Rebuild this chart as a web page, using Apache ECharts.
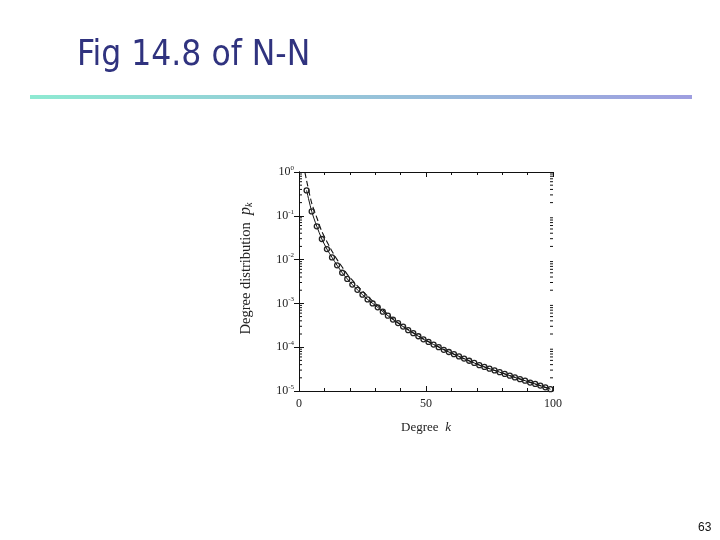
<!DOCTYPE html>
<html>
<head>
<meta charset="utf-8">
<script src="https://cdn.jsdelivr.net/npm/echarts@6/dist/echarts.min.js"></script>
<style>
html,body{margin:0;padding:0;background:#fff;}
#chart{width:720px;height:540px;}
</style>
</head>
<body>
<div id="chart"></div>
<script>
// ---- data ----
const kSim = [3,5,7,9,11,13,15,17,19,21,23,25,27,29,31,33,35,37,39,41,43,45,47,49,51,53,55,57,59,61,63,65,67,69,71,73,75,77,79,81,83,85,87,89,91,93,95,97,99];
const pSim = [0.380,0.126,0.0575,0.0295,0.0174,0.0112,0.00741,0.00501,0.00363,0.00269,0.00204,0.00158,0.00123,0.00100,
  0.000813,0.000646,0.000525,0.000427,0.000355,0.000295,0.000245,0.000209,0.000178,0.000151,0.000132,0.000115,0.000100,
  0.0000871,0.0000776,0.0000692,0.0000617,0.0000550,0.0000490,0.0000437,0.0000389,0.0000355,0.0000324,0.0000295,0.0000269,
  0.0000245,0.0000224,0.0000204,0.0000186,0.0000172,0.0000156,0.0000145,0.0000133,0.0000121,0.0000110];
const kDash = [2.3,3,5,7,9,11,13,15,17,19,21,23,25,27,29,31,33,35,37,39,45,50,60,70,80,90,100];
const pDash = [1.0,0.631,0.195,0.0912,0.0437,0.0257,0.0155,0.0100,0.00676,0.00462,0.00339,0.00251,0.00191,0.00148,0.00113,
  0.000902,0.000708,0.000560,0.000447,0.000361,0.000213,0.000144,0.0000735,0.0000412,0.0000257,0.0000166,0.0000105];
const xTickLabels = ['0','50','100'];

const simData = kSim.map((k,i)=>[k,pSim[i]]);
const dashData = kDash.map((k,i)=>[k,pDash[i]]);
// minor log tick positions (2..9 within each decade)
const minorLog = [];
for (let e = -5; e < 0; e++) for (let m = 2; m <= 9; m++) minorLog.push([0, m*Math.pow(10,e)]);

const serif = '"Liberation Serif","DejaVu Serif",serif';
const txt = '#222';

const chart = echarts.init(document.getElementById('chart'));
const axisLine = {show:true, lineStyle:{color:'#111', width:1}};
chart.setOption({
  animation:false,
  backgroundColor:'#fff',
  title:{
    text:'Fig 14.8 of N-N', left:72, top:33,
    textStyle:{fontFamily:'"DejaVu Sans Condensed","Liberation Sans Narrow",sans-serif', fontSize:35, fontWeight:'normal', color:'#30337f'}
  },
  graphic:[
    {type:'rect', left:30, top:95, shape:{width:662, height:4},
      style:{fill:new echarts.graphic.LinearGradient(0,0,1,0,[{offset:0,color:'#8eead2'},{offset:1,color:'#9e9ee0'}])}},
    {type:'text', left:698, top:522, style:{text:'63', fontSize:12, fontFamily:'"Liberation Sans",sans-serif', fill:'#111'}}
  ],
  grid:{left:299, top:172, width:254, height:219, show:false},
  xAxis:[{
    type:'value', min:0, max:100, interval:50, position:'bottom',
    axisLine:axisLine,
    axisTick:{show:true, inside:true, length:5, lineStyle:{color:'#111'}},
    minorTick:{show:true, splitNumber:5, length:3, lineStyle:{color:'#111'}},
    splitLine:{show:false},
    axisLabel:{fontFamily:serif, fontSize:12, color:txt, margin:7,
      formatter:v=>{const i=[0,50,100].indexOf(v); return i>=0?xTickLabels[i]:'';}},
    name:'{n|Degree  }{i|k}', nameLocation:'middle', nameGap:30,
    nameTextStyle:{rich:{n:{fontFamily:serif,fontSize:13,color:txt},i:{fontFamily:serif,fontSize:13,fontStyle:'italic',color:txt}}}
  },{
    type:'value', min:0, max:100, interval:50, position:'top',
    axisLine:axisLine,
    axisTick:{show:true, inside:true, length:5, lineStyle:{color:'#111'}},
    minorTick:{show:true, splitNumber:5, length:3, lineStyle:{color:'#111'}},
    splitLine:{show:false}, axisLabel:{show:false}
  }],
  yAxis:[{
    type:'log', logBase:10, min:1e-5, max:1, interval:1, position:'left',
    axisLine:axisLine,
    axisTick:{show:true, inside:true, length:5, lineStyle:{color:'#111'}},
    splitLine:{show:false},
    axisLabel:{margin:5, color:txt,
      formatter:v=>'{b|10}{s|'+Math.round(Math.log10(v))+'}',
      rich:{b:{fontFamily:serif,fontSize:12,color:txt},s:{fontFamily:serif,fontSize:7,color:txt,padding:[0,0,8,0]}}},
    name:'{n|Degree distribution  }{i|p}{k|k}', nameLocation:'middle', nameGap:45, nameRotate:90,
    nameTextStyle:{padding:[0,0,0,26], rich:{
      n:{fontFamily:serif,fontSize:14.5,color:txt},
      i:{fontFamily:serif,fontSize:16,fontStyle:'italic',color:txt},
      k:{fontFamily:serif,fontSize:10,fontStyle:'italic',color:txt,padding:[6,0,0,0]}}}
  },{
    type:'log', logBase:10, min:1e-5, max:1, interval:1, position:'right',
    axisLine:axisLine,
    axisTick:{show:true, inside:true, length:5, lineStyle:{color:'#111'}},
    splitLine:{show:false}, axisLabel:{show:false}
  }],
  series:[
    {type:'custom', xAxisIndex:0, yAxisIndex:0, silent:true, data:minorLog, z:1,
      renderItem:(params, api)=>{
        const pt = api.coord([0, api.value(1)]);
        const cs = params.coordSys;
        const xr = cs.x + cs.width;
        return {type:'group', children:[
          {type:'line', shape:{x1:cs.x, y1:pt[1], x2:cs.x+3, y2:pt[1]}, style:{stroke:'#111', lineWidth:1}},
          {type:'line', shape:{x1:xr-3, y1:pt[1], x2:xr, y2:pt[1]}, style:{stroke:'#111', lineWidth:1}}
        ]};
      }},
    {type:'line', data:dashData, symbol:'none', smooth:0.3, clip:true,
      lineStyle:{color:'#111', width:1.1, type:[6,3]}, z:2},
    {type:'line', data:simData, symbol:'circle', symbolSize:5, smooth:0.3,
      lineStyle:{color:'#111', width:1},
      itemStyle:{color:'rgba(255,255,255,0)', borderColor:'#222', borderWidth:1.3}, z:3}
  ]
});
</script>
</body>
</html>
